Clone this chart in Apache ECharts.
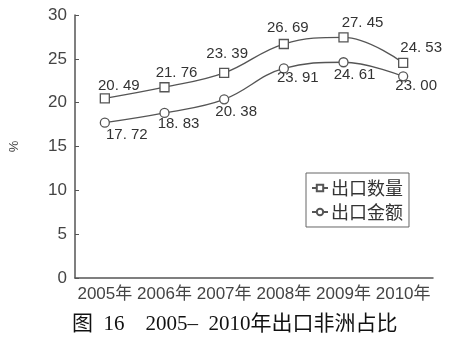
<!DOCTYPE html>
<html><head><meta charset="utf-8">
<script src="https://cdn.jsdelivr.net/npm/echarts@6/dist/echarts.min.js"></script>
<style>html,body{margin:0;padding:0;background:#fff}#c{width:458px;height:338px}</style>
</head><body><div id="c"></div>
<script>
const categories = ['2005年','2006年','2007年','2008年','2009年','2010年'];
const quantityShare = [20.49, 21.76, 23.39, 26.69, 27.45, 24.53];
const valueShare = [17.72, 18.83, 20.38, 23.91, 24.61, 23.00];
const yTicks = [0, 5, 10, 15, 20, 25, 30];
const seriesNames = ['出口数量', '出口金额'];
const titleText = '图  16    2005–  2010年出口非洲占比';

// label offsets (style)
const qOffsets = [[14,-13],[12,-14],[3,-19],[4,-16],[19,-14],[18,-15]];
const vOffsets = [[22,12],[14,11],[12,13],[14,9],[11,13],[13,9]];

const gray = '#555';
const fmt = v => v.toFixed(2).replace('.', '. ');
function mk(vals, offs) {
  return vals.map((v,i) => ({value: v, label: {offset: offs[i]}}));
}
const chart = echarts.init(document.getElementById('c'));
chart.setOption({
  animation: false,
  backgroundColor: '#fff',
  title: {text: titleText, left: 67, top: 309,
    textStyle: {fontFamily: '"Liberation Serif", "Noto Sans CJK SC", serif', fontSize: 21, fontWeight: 'normal', color: '#111'}},
  grid: {left: 70, right: 25, top: 15, bottom: 60},
  legend: {
    orient: 'vertical', left: 306, top: 173, padding: [6, 6, 6, 5],
    borderColor: '#666', borderWidth: 1, itemWidth: 16, itemHeight: 8, itemGap: 6,
    textStyle: {fontFamily: '"Noto Sans CJK SC", sans-serif', fontSize: 18, color: '#333', padding: [0,0,0,-2]},
    data: seriesNames
  },
  xAxis: {
    type: 'category', data: categories, boundaryGap: true,
    axisLine: {lineStyle: {color: gray, width: 1.5}},
    axisTick: {inside: true, length: 4, lineStyle: {color: gray}},
    axisLabel: {interval: 0, fontFamily: '"Liberation Sans", "Noto Sans CJK SC", sans-serif', fontSize: 17, color: '#444', margin: 8}
  },
  yAxis: {
    type: 'value', min: 0, max: 30, interval: 5,
    name: '%', nameLocation: 'middle', nameGap: 54, nameRotate: 90,
    nameTextStyle: {fontSize: 13, color: '#444'},
    splitLine: {show: false},
    axisLine: {show: true, lineStyle: {color: gray, width: 1.5}},
    axisTick: {show: true, inside: true, length: 4, lineStyle: {color: gray}},
    axisLabel: {fontFamily: '"Liberation Sans", sans-serif', fontSize: 17, color: '#444', margin: 8,
      formatter: v => yTicks.includes(v) ? String(v) : ''}
  },
  series: [
    {name: seriesNames[0], type: 'line', smooth: 0.4, symbol: 'rect', symbolSize: 9,
      data: mk(quantityShare, qOffsets),
      lineStyle: {color: gray, width: 1.3},
      itemStyle: {color: '#fff', borderColor: gray, borderWidth: 1.3},
      label: {show: true, position: 'inside', formatter: p => fmt(p.value), color: '#333',
        fontFamily: '"Liberation Sans", sans-serif', fontSize: 15}},
    {name: seriesNames[1], type: 'line', smooth: 0.4, symbol: 'circle', symbolSize: 9,
      data: mk(valueShare, vOffsets),
      lineStyle: {color: gray, width: 1.3},
      itemStyle: {color: '#fff', borderColor: gray, borderWidth: 1.3},
      label: {show: true, position: 'inside', formatter: p => fmt(p.value), color: '#333',
        fontFamily: '"Liberation Sans", sans-serif', fontSize: 15}}
  ]
});
</script></body></html>
